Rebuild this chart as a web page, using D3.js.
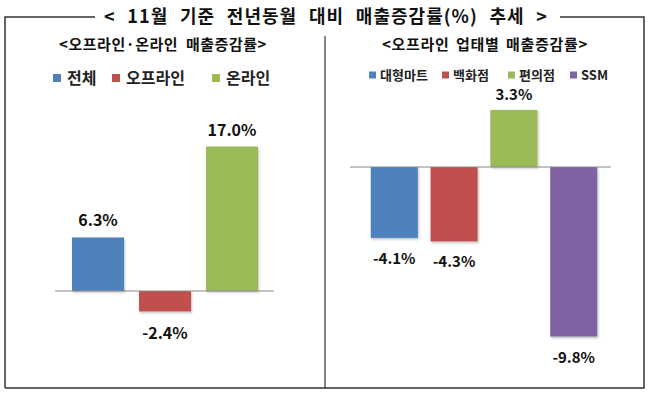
<!DOCTYPE html>
<html><head><meta charset="utf-8">
<script src="https://cdn.jsdelivr.net/npm/d3@7"></script>
<style>
html,body{margin:0;padding:0;background:#fff;}
text{font-family:"Noto Sans CJK KR","Noto Sans",sans-serif;}
</style></head>
<body>
<svg id="c" width="650" height="397"></svg>
<script>
const title = "< 11월 기준 전년동월 대비 매출증감률(%) 추세 >";
const leftTitle = "<오프라인·온라인 매출증감률>";
const rightTitle = "<오프라인 업태별 매출증감률>";
const leftCats = ["전체", "오프라인", "온라인"];
const leftVals = [6.3, -2.4, 17.0];
const leftLabels = ["6.3%", "-2.4%", "17.0%"];
const rightCats = ["대형마트", "백화점", "편의점", "SSM"];
const rightVals = [-4.1, -4.3, 3.3, -9.8];
const rightLabels = ["-4.1%", "-4.3%", "3.3%", "-9.8%"];
const colors = ["#4F81BD", "#C0504D", "#9BBB59", "#8064A2"];

const svg = d3.select("#c");
const defs = svg.append("defs");
const f = defs.append("filter").attr("id","sh").attr("x","-20%").attr("y","-20%").attr("width","140%").attr("height","140%");
f.append("feDropShadow").attr("dx",1).attr("dy",1.5).attr("stdDeviation",1).attr("flood-color","#000").attr("flood-opacity",0.25);

const fc = "#333";
svg.append("path").attr("d","M5,388 L5,17 L95,17").attr("fill","none").attr("stroke",fc).attr("stroke-width",1.5);
svg.append("path").attr("d","M560,17 L644,17 L644,388 L5,388").attr("fill","none").attr("stroke",fc).attr("stroke-width",1.5);
svg.append("line").attr("x1",325).attr("x2",325).attr("y1",36).attr("y2",388).attr("stroke",fc).attr("stroke-width",1.2);

function fitText(sel, target, wordShare){
  const t = sel.text();
  const nSp = (t.match(/ /g)||[]).length;
  const nCh = t.length;
  const w = sel.node().getComputedTextLength();
  const gap = target - w;
  if (gap > 0) {
    const ls = gap*(1-wordShare)/nCh;
    const ws = nSp>0 ? gap*wordShare/nSp : 0;
    sel.attr("letter-spacing", ls).attr("word-spacing", ws);
  } else {
    sel.attr("textLength", target).attr("lengthAdjust","spacingAndGlyphs");
  }
}

fitText(svg.append("text").attr("x",326).attr("y",23).attr("text-anchor","middle")
  .attr("font-size",18).attr("font-weight",700).attr("fill","#111").text(title), 444, 0.6);
fitText(svg.append("text").attr("x",163).attr("y",50).attr("text-anchor","middle")
  .attr("font-size",15).attr("font-weight",700).attr("fill","#111").text(leftTitle), 208, 0.3);
fitText(svg.append("text").attr("x",485).attr("y",50).attr("text-anchor","middle")
  .attr("font-size",15).attr("font-weight",700).attr("fill","#111").text(rightTitle), 206, 0.3);

function panel(cats, vals, labels, xr, yDom, yRange, zeroX, legend, labFont, above, below){
  const p = cats.length===3?0.224:0.213;
  const x = d3.scaleBand().domain(cats).range(xr).paddingInner(p).paddingOuter(p);
  const y = d3.scaleLinear().domain(yDom).range(yRange);
  const g = svg.append("g");
  g.selectAll("rect.bar").data(cats).join("rect").attr("class","bar")
    .attr("x", d=>x(d)).attr("width", x.bandwidth())
    .attr("y", (d,i)=> y(Math.max(0, vals[i])))
    .attr("height", (d,i)=> Math.abs(y(vals[i]) - y(0)))
    .attr("fill", (d,i)=>colors[i]).attr("filter","url(#sh)");
  g.append("line").attr("x1",zeroX[0]).attr("x2",zeroX[1]).attr("y1",y(0)).attr("y2",y(0))
    .attr("stroke","#888").attr("stroke-width",1);
  g.selectAll("text.lab").data(cats).join("text").attr("class","lab")
    .attr("x", d=>x(d)+x.bandwidth()/2)
    .attr("y", (d,i)=> vals[i]>=0 ? y(vals[i]) - above : y(vals[i]) + below)
    .attr("text-anchor","middle").attr("font-size",labFont).attr("font-weight",700).attr("fill","#111")
    .text((d,i)=>labels[i]);
  const lg = g.append("g");
  legend.pos.forEach((px,i)=>{
    lg.append("rect").attr("x",px).attr("y",legend.y - legend.sq/2).attr("width",legend.sq).attr("height",legend.sq).attr("fill",colors[i]);
    lg.append("text").attr("x",px+legend.sq+legend.gap).attr("y",legend.y).attr("dy","0.36em")
      .attr("font-size",legend.fs).attr("font-weight",700).attr("fill","#222").text(cats[i]);
  });
}

panel(leftCats, leftVals, leftLabels, [57,273], [-5,20], [333.5,121], [55,274],
  {y:78, sq:8, gap:6, fs:16, pos:[53,112,212]}, 16, 11, 28);
panel(rightCats, rightVals, rightLabels, [358,610], [-10,4], [340,97.8], [350,611],
  {y:75, sq:7, gap:4, fs:13, pos:[369,442,508,570]}, 15, 10, 26);
</script>
</body></html>
